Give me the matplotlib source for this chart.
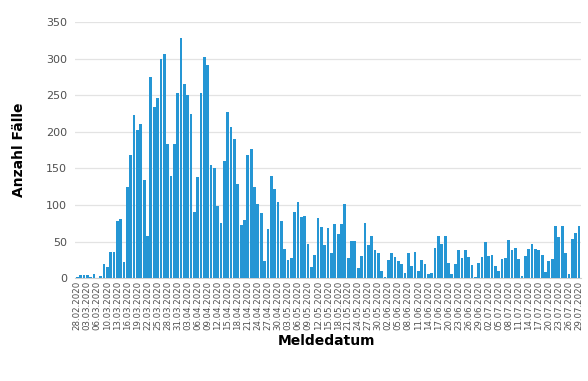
import matplotlib.pyplot as plt
import numpy as np
import pandas as pd

# Fallzahlen pro Meldedatum
faelle = [1, 4, 4, 4, 2, 5, 0, 3, 19, 15,
          36, 36, 78, 81, 22, 125, 168, 223, 203, 211,
          134, 58, 275, 234, 246, 300, 307, 184, 139, 183,
          253, 328, 266, 250, 225, 90, 138, 253, 302, 292,
          154, 151, 98, 76, 160, 227, 207, 190, 129, 73,
          79, 169, 176, 125, 101, 89, 23, 67, 139, 122,
          104, 78, 40, 25, 27, 90, 104, 83, 85, 46,
          15, 32, 82, 70, 45, 69, 34, 74, 60, 74,
          102, 28, 51, 51, 14, 30, 75, 45, 57, 38,
          34, 10, 1, 25, 34, 29, 23, 19, 7, 35,
          16, 36, 10, 25, 19, 5, 7, 41, 58, 46,
          58, 20, 6, 19, 38, 28, 39, 29, 18, 1,
          20, 29, 50, 30, 31, 16, 10, 26, 28, 52,
          38, 41, 26, 3, 30, 40, 47, 40, 39, 32,
          8, 23, 26, 71, 56, 71, 34, 5, 54, 62,
          71]

# Tage ohne Meldung fehlen in der Kategorienachse
fehlende_tage = ["2020-03-01", "2020-03-08"]
tage = pd.date_range("2020-02-28", "2020-07-29")
tage = tage.drop(pd.to_datetime(fehlende_tage))
datum = [t.strftime("%d.%m.%Y") for t in tage]

y_ticks = [0, 50, 100, 150, 200, 250, 300, 350]

blau = "#2596d4"
grau = "#505050"

fig = plt.figure(figsize=(5.88, 3.81), dpi=100)
ax = fig.add_axes([0.128, 0.27, 0.86, 0.672])

x = np.arange(len(datum))
ax.bar(x, faelle, width=0.82, color=blau, zorder=3)

ax.set_xlim(-0.6, len(datum) - 0.4)
ax.set_ylim(0, 350)
ax.set_yticks(y_ticks)
ax.yaxis.grid(True, color="#e3e3e3", linewidth=0.9, zorder=0)

ax.set_xticks(x[::3])
ax.set_xticklabels(datum[::3], rotation=90, fontsize=6.2, color=grau)
ax.tick_params(axis="y", labelsize=8, colors=grau, length=0, pad=6)
ax.tick_params(axis="x", length=0, pad=2)

for s in ["top", "right", "left"]:
    ax.spines[s].set_visible(False)
ax.spines["bottom"].set_color("#d0d0d0")

ax.set_ylabel("Anzahl Fälle", fontsize=10, fontweight="bold", labelpad=14)
fig.text(0.556, 0.105, "Meldedatum", fontsize=10, fontweight="bold",
         ha="center", va="center")

plt.savefig("out.png", dpi=100)
